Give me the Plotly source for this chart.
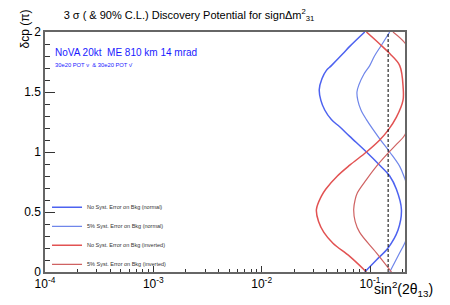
import plotly.graph_objects as go

# ---- data ----
DELTA_A = [2.00, 1.88, 1.82, 1.72, 1.68, 1.61, 1.52, 1.43, 1.35, 1.27, 1.21, 1.13, 1.00, 0.89, 0.80, 0.69, 0.52, 0.35, 0.20, 0.10, 0.00]
SIN2_A = [0.0894, 0.0650, 0.0564, 0.0440, 0.0396, 0.0360, 0.0340, 0.0352, 0.0382, 0.0440, 0.0525, 0.0650, 0.0927, 0.1229, 0.1520, 0.1753, 0.1950, 0.1814, 0.1466, 0.1146, 0.0894]

DELTA_B = [2.00, 1.89, 1.80, 1.72, 1.65, 1.56, 1.50, 1.43, 1.35, 1.27, 1.11, 1.00, 0.88, 0.78, 0.65, 0.50, 0.35, 0.24, 0.16, 0.00]
SIN2_B = [0.152, 0.1274, 0.110, 0.0994, 0.0880, 0.0790, 0.0758, 0.0772, 0.0825, 0.0927, 0.1229, 0.152, 0.188, 0.209, 0.234, 0.248, 0.232, 0.209, 0.188, 0.152]

DELTA_C = [2.00, 1.90, 1.82, 1.72, 1.53, 1.43, 1.29, 1.18, 1.10, 1.00, 0.89, 0.80, 0.69, 0.63, 0.52, 0.42, 0.33, 0.24, 0.13, 0.00]
SIN2_C = [0.0927, 0.1229, 0.152, 0.188, 0.2025, 0.2016, 0.1753, 0.1466, 0.1229, 0.0927, 0.0650, 0.0500, 0.0390, 0.0355, 0.0320, 0.0335, 0.0375, 0.0455, 0.0650, 0.0927]

DELTA_D = [2.00, 1.89, 1.75, 1.50, 1.30, 1.14, 1.07, 0.99, 0.88, 0.77, 0.66, 0.60, 0.52, 0.42, 0.33, 0.16, 0.00]
SIN2_D = [0.163, 0.217, 0.240, 0.257, 0.236, 0.209, 0.178, 0.1466, 0.1146, 0.0927, 0.0765, 0.0728, 0.0707, 0.0730, 0.0803, 0.1146, 0.158]

TRUE_SIN2 = 0.147
DELTA_RANGE = [0, 2]

NAMES = ["No Syst. Error on Bkg (normal)", "5% Syst. Error on Bkg (normal)",
         "No Syst. Error on Bkg (inverted)", "5% Syst. Error on Bkg (inverted)"]

X_TICKS = [1e-4, 1e-3, 1e-2, 1e-1]
X_TICK_TEXT = ["10<sup>-4</sup>", "10<sup>-3</sup>", "10<sup>-2</sup>", "10<sup>-1</sup>"]
X_MINOR = [k * 10.0 ** e for e in range(-4, 0) for k in range(2, 10) if k * 10.0 ** e < 0.21]
Y_TICKS = [0, 0.5, 1, 1.5, 2]
Y_TICK_TEXT = ["0", "0.5", "1", "1.5", "2"]

FONT = "Liberation Sans, Arial, Helvetica, sans-serif"

# page body has an 8px default margin: the figure is sized/offset to compensate
W, H, OFF = 442, 297, 8

fig = go.Figure()
styles = [("#4d62f0", 1.5), ("#6f86ea", 1.2), ("#e25252", 1.5), ("#cf6262", 1.2)]
for (xs, ys), name, (col, w) in zip(
        [(SIN2_A, DELTA_A), (SIN2_B, DELTA_B), (SIN2_C, DELTA_C), (SIN2_D, DELTA_D)], NAMES, styles):
    fig.add_trace(go.Scatter(x=xs, y=ys, mode="lines", name=name,
                             line=dict(color=col, width=w, shape="spline", smoothing=1.0)))

fig.add_trace(go.Scatter(x=[TRUE_SIN2, TRUE_SIN2], y=DELTA_RANGE, mode="lines", showlegend=False,
                         line=dict(color="black", width=1, dash="3px,2px")))

fig.update_xaxes(type="log", range=[-4, -0.677], tickmode="array", tickvals=X_TICKS, ticktext=X_TICK_TEXT,
                 ticks="inside", ticklen=6, tickcolor="#333", showgrid=False, zeroline=False,
                 showline=True, linecolor="#666", linewidth=1.5, mirror=True,
                 tickfont=dict(size=12, color="black", family=FONT),
                 minor=dict(tickmode="array", tickvals=X_MINOR, ticks="inside", ticklen=3.5,
                            tickcolor="#333", showgrid=False))
fig.update_yaxes(range=[0, 2], tickmode="array", tickvals=Y_TICKS, ticktext=Y_TICK_TEXT,
                 ticks="inside", ticklen=10, tickcolor="#333", showgrid=False, zeroline=False,
                 showline=True, linecolor="#666", linewidth=1.5, mirror=True,
                 tickfont=dict(size=12, color="black", family=FONT),
                 minor=dict(dtick=0.1, ticks="inside", ticklen=5, tickcolor="#333", showgrid=False))

fig.update_layout(
    width=W, height=H,
    margin=dict(l=45 - OFF, r=45, t=31.5 - OFF, b=32.5),
    paper_bgcolor="white", plot_bgcolor="white",
    font=dict(family=FONT, color="black"),
    title=dict(text="3 σ ( & 90% C.L.) Discovery Potential for signΔm<sup>2</sup><sub>31</sub>",
               x=(189 - OFF) / W, xanchor="center", y=1 - (15 - OFF) / H, yanchor="middle",
               font=dict(size=11, family=FONT, color="black")),
    legend=dict(x=0.0056, y=0.33, xanchor="left", yanchor="top", bgcolor="rgba(0,0,0,0)",
                font=dict(size=5.5, family=FONT, color="#333"), itemwidth=30, tracegroupgap=0),
    annotations=[
        dict(text="NoVA 20kt \u00a0ME 810 km 14 mrad", xref="paper", yref="paper", x=0.022, y=0.913,
             xanchor="left", yanchor="middle", showarrow=False,
             font=dict(size=10, family=FONT, color="#1a1aff")),
        dict(text="30e20 POT ν \u00a0& 30e20 POT ν\u0304", xref="paper", yref="paper", x=0.022, y=0.862,
             xanchor="left", yanchor="middle", showarrow=False,
             font=dict(size=5.8, family=FONT, color="#1a1aff")),
        dict(text="sin<sup>2</sup>(2θ<sub>13</sub>)", xref="paper", yref="paper", x=1.083, y=-0.07,
             xanchor="right", yanchor="middle", showarrow=False,
             font=dict(size=14, family=FONT, color="black")),
        dict(text="δcp (π)", xref="paper", yref="paper", x=-0.056, y=1.014, textangle=-90,
             xanchor="center", yanchor="middle", showarrow=False,
             font=dict(size=12, family=FONT, color="black")),
    ],
)

fig.write_html("out.html")
